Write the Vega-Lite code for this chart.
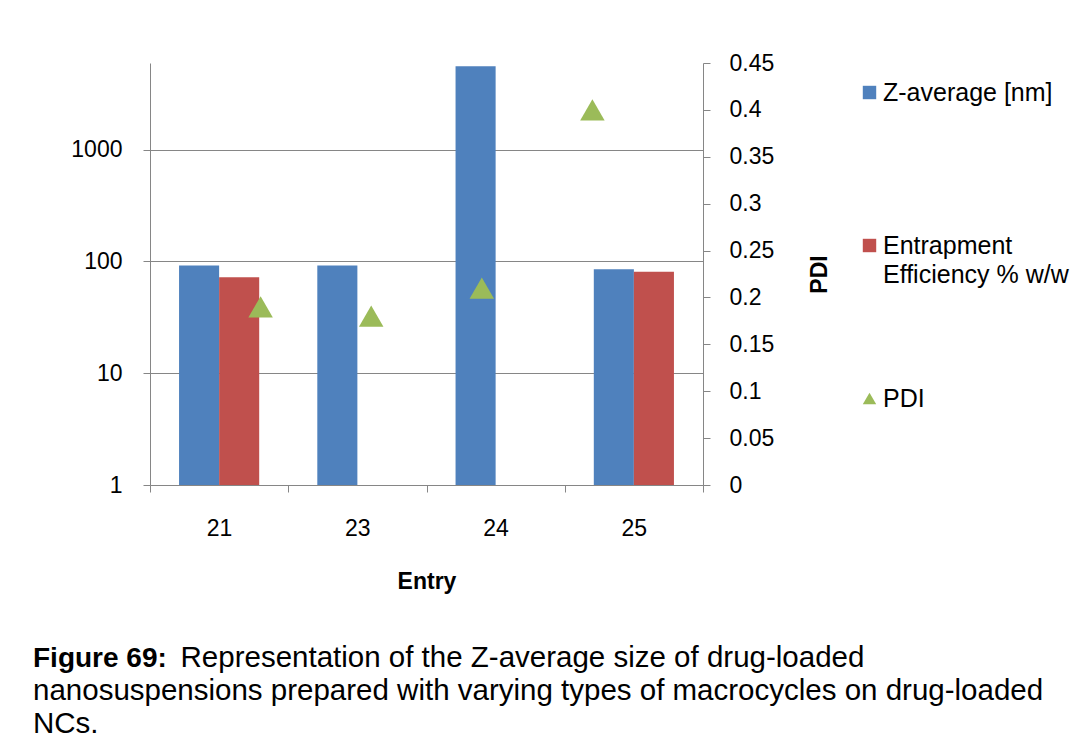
{
  "$schema": "https://vega.github.io/schema/vega-lite/v6.json",
  "width": 553,
  "height": 422,
  "autosize": "none",
  "padding": {"left": 150, "top": 63, "right": 389, "bottom": 270},
  "background": "white",
  "datasets": {
    "bars": [
      {"Entry": "21", "Series": "Z-average [nm]", "Value": 92},
      {"Entry": "21", "Series": "Entrapment Efficiency % w/w", "Value": 72},
      {"Entry": "23", "Series": "Z-average [nm]", "Value": 92},
      {"Entry": "24", "Series": "Z-average [nm]", "Value": 5560},
      {"Entry": "25", "Series": "Z-average [nm]", "Value": 85},
      {"Entry": "25", "Series": "Entrapment Efficiency % w/w", "Value": 81}
    ],
    "pdi": [
      {"Entry": "21", "Series": "PDI", "PDI": 0.19},
      {"Entry": "23", "Series": "PDI", "PDI": 0.18},
      {"Entry": "24", "Series": "PDI", "PDI": 0.21},
      {"Entry": "25", "Series": "PDI", "PDI": 0.40}
    ]
  },
  "title": {
    "text": "Figure 69:",
    "subtitle": [
      "\u200b\u00a0\u00a0\u00a0\u00a0\u00a0\u00a0\u00a0\u00a0\u00a0\u00a0\u00a0\u00a0\u00a0\u00a0\u00a0\u00a0\u00a0\u00a0Representation of the Z-average size of drug-loaded",
      "nanosuspensions prepared with varying types of macrocycles on drug-loaded",
      "NCs."
    ],
    "orient": "bottom",
    "anchor": "start",
    "frame": "group",
    "dx": -117,
    "offset": 52,
    "font": "Liberation Sans",
    "fontSize": 28,
    "fontWeight": "bold",
    "color": "#000000",
    "subtitleFont": "Liberation Sans",
    "subtitleFontSize": 29.5,
    "subtitleFontWeight": "normal",
    "subtitleColor": "#000000",
    "subtitleLineHeight": 33,
    "subtitlePadding": -29.4
  },
  "layer": [
    {
      "data": {"name": "bars"},
      "mark": {"type": "bar"},
      "encoding": {
        "x": {
          "field": "Entry",
          "type": "nominal",
          "scale": {"paddingInner": 0, "paddingOuter": 0},
          "axis": {
            "title": "Entry",
            "labelAngle": 0,
            "tickBand": "extent",
            "labelPadding": 25,
            "titlePadding": 30
          }
        },
        "xOffset": {
          "field": "Series",
          "type": "nominal",
          "scale": {"domain": ["Z-average [nm]", "Entrapment Efficiency % w/w"], "paddingInner": 0, "paddingOuter": 0.725}
        },
        "y": {
          "field": "Value",
          "type": "quantitative",
          "scale": {"type": "log", "domain": [1, 5950], "nice": false},
          "axis": {
            "orient": "left",
            "values": [1, 10, 100, 1000],
            "format": "d",
            "grid": true,
            "title": null,
            "labelPadding": 21
          }
        },
        "y2": {"datum": 1},
        "color": {
          "field": "Series",
          "type": "nominal",
          "scale": {
            "domain": ["Z-average [nm]", "Entrapment Efficiency % w/w", "PDI"],
            "range": ["#4F81BD", "#C0504D", "#9BBB59"]
          },
          "legend": {
            "orient": "none",
            "legendX": 707,
            "legendY": 17,
            "title": null,
            "symbolSize": 180,
            "labelFontSize": 25,
            "labelColor": "#000000",
            "labelLimit": 400,
            "labelOffset": 1,
            "rowPadding": 98,
            "padding": 0,
            "labelExpr": "datum.label == 'Entrapment Efficiency % w/w' ? ['Entrapment', 'Efficiency % w/w'] : [datum.label, '']",
            "encode": {"labels": {"update": {"lineHeight": {"value": 29}}}}
          }
        }
      }
    },
    {
      "data": {"name": "pdi"},
      "mark": {"type": "point", "filled": true, "opacity": 1, "size": 600},
      "encoding": {
        "x": {
          "field": "Entry",
          "type": "nominal",
          "scale": {"type": "point", "padding": 1},
          "axis": null
        },
        "y": {
          "field": "PDI",
          "type": "quantitative",
          "scale": {"domain": [0, 0.45], "nice": false, "zero": true},
          "axis": {
            "orient": "right",
            "values": [0, 0.05, 0.1, 0.15, 0.2, 0.25, 0.3, 0.35, 0.4, 0.45],
            "format": "~g",
            "grid": false,
            "title": "PDI",
            "titleAngle": 270,
            "titlePadding": 58,
            "labelPadding": 19
          }
        },
        "color": {
          "field": "Series",
          "type": "nominal",
          "scale": {
            "domain": ["Z-average [nm]", "Entrapment Efficiency % w/w", "PDI"],
            "range": ["#4F81BD", "#C0504D", "#9BBB59"]
          },
          "legend": {
            "orient": "none",
            "legendX": 707,
            "legendY": 17,
            "title": null,
            "symbolSize": 180,
            "labelFontSize": 25,
            "labelColor": "#000000",
            "labelLimit": 400,
            "labelOffset": 1,
            "rowPadding": 98,
            "padding": 0,
            "labelExpr": "datum.label == 'Entrapment Efficiency % w/w' ? ['Entrapment', 'Efficiency % w/w'] : [datum.label, '']",
            "encode": {"labels": {"update": {"lineHeight": {"value": 29}}}}
          }
        },
        "shape": {
          "field": "Series",
          "type": "nominal",
          "scale": {
            "domain": ["Z-average [nm]", "Entrapment Efficiency % w/w", "PDI"],
            "range": ["square", "square", "triangle-up"]
          },
          "legend": {
            "orient": "none",
            "legendX": 707,
            "legendY": 17,
            "title": null,
            "symbolSize": 180,
            "labelFontSize": 25,
            "labelColor": "#000000",
            "labelLimit": 400,
            "labelOffset": 1,
            "rowPadding": 98,
            "padding": 0,
            "labelExpr": "datum.label == 'Entrapment Efficiency % w/w' ? ['Entrapment', 'Efficiency % w/w'] : [datum.label, '']",
            "encode": {"labels": {"update": {"lineHeight": {"value": 29}}}}
          }
        }
      }
    }
  ],
  "resolve": {"scale": {"x": "independent", "y": "independent"}},
  "config": {
    "font": "Liberation Sans",
    "view": {"stroke": null},
    "axis": {
      "domainColor": "#868686",
      "tickColor": "#868686",
      "gridColor": "#868686",
      "domainWidth": 1,
      "tickWidth": 1,
      "gridWidth": 1,
      "tickSize": 7,
      "labelColor": "#000000",
      "labelFont": "Liberation Sans",
      "labelFontSize": 23,
      "titleFont": "Liberation Sans",
      "titleFontSize": 23,
      "titleFontWeight": "bold",
      "titleColor": "#000000"
    },
    "legend": {
      "labelFont": "Liberation Sans"
    }
  }
}
